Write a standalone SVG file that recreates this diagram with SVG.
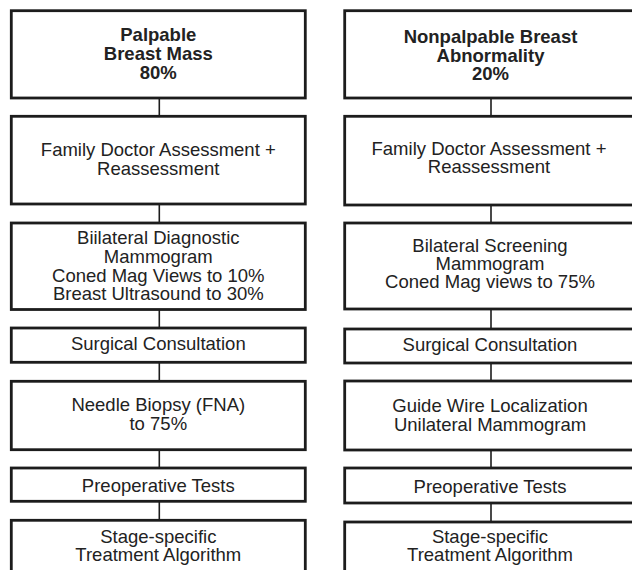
<svg xmlns="http://www.w3.org/2000/svg" width="632" height="570" viewBox="0 0 632 570">
<style>
.box{fill:#fff;stroke:#1c1c1c;stroke-width:2.8}
.t{font-family:"Liberation Sans",Arial,sans-serif;font-size:18.5px;fill:#222;text-anchor:middle}
.b{font-weight:bold}
.c{stroke:#1c1c1c;stroke-width:1.6;fill:none}
</style>
<rect width="632" height="570" fill="#fff"/>
<g id="connectors">
<line class="c" x1="159.3" y1="98" x2="159.3" y2="116"/>
<line class="c" x1="159.3" y1="204" x2="159.3" y2="223"/>
<line class="c" x1="159.3" y1="309.5" x2="159.3" y2="328"/>
<line class="c" x1="159.3" y1="362.3" x2="159.3" y2="381"/>
<line class="c" x1="159.3" y1="449.7" x2="159.3" y2="468"/>
<line class="c" x1="159.3" y1="501.3" x2="159.3" y2="520"/>
<line class="c" x1="491" y1="98" x2="491" y2="116"/>
<line class="c" x1="491" y1="205" x2="491" y2="223"/>
<line class="c" x1="491" y1="309" x2="491" y2="329"/>
<line class="c" x1="491" y1="363" x2="491" y2="381"/>
<line class="c" x1="491" y1="450" x2="491" y2="468"/>
<line class="c" x1="491" y1="503" x2="491" y2="522"/>
</g>
<g id="L1"><rect class="box" x="11.3" y="10.7" width="294" height="87.3"/>
<text class="t b" x="158.3" y="41">Palpable</text>
<text class="t b" x="158.3" y="60">Breast Mass</text>
<text class="t b" x="158.3" y="79">80%</text></g>
<g id="L2"><rect class="box" x="11.3" y="116.3" width="294" height="87.7"/>
<text class="t" x="158.3" y="156">Family Doctor Assessment +</text>
<text class="t" x="158.3" y="175">Reassessment</text></g>
<g id="L3"><rect class="box" x="11.3" y="223" width="294" height="86.5"/>
<text class="t" x="158.3" y="244.3">Biilateral Diagnostic</text>
<text class="t" x="158.3" y="263">Mammogram</text>
<text class="t" x="158.3" y="281.7">Coned Mag Views to 10%</text>
<text class="t" x="158.3" y="300.3">Breast Ultrasound to 30%</text></g>
<g id="L4"><rect class="box" x="11.3" y="328" width="294" height="34.3"/>
<text class="t" x="158.3" y="350.3">Surgical Consultation</text></g>
<g id="L5"><rect class="box" x="11.3" y="381.3" width="294" height="68.4"/>
<text class="t" x="158.3" y="411">Needle Biopsy (FNA)</text>
<text class="t" x="158.3" y="430">to 75%</text></g>
<g id="L6"><rect class="box" x="11.3" y="468" width="294" height="33.3"/>
<text class="t" x="158.3" y="491.7">Preoperative Tests</text></g>
<g id="L7"><rect class="box" x="11.3" y="520.3" width="294" height="70"/>
<text class="t" x="158.3" y="543.3">Stage-specific</text>
<text class="t" x="158.3" y="561">Treatment Algorithm</text></g>
<g id="R1"><rect class="box" x="344.7" y="10.7" width="300" height="87.3"/>
<text class="t b" x="490.5" y="43">Nonpalpable Breast</text>
<text class="t b" x="490.5" y="61.5">Abnormality</text>
<text class="t b" x="490.5" y="80">20%</text></g>
<g id="R2"><rect class="box" x="344.7" y="116.3" width="300" height="88.7"/>
<text class="t" x="489" y="155">Family Doctor Assessment +</text>
<text class="t" x="489" y="173">Reassessment</text></g>
<g id="R3"><rect class="box" x="344.7" y="223" width="300" height="86"/>
<text class="t" x="490" y="252.3">Bilateral Screening</text>
<text class="t" x="490" y="270.3">Mammogram</text>
<text class="t" x="490" y="288.3">Coned Mag views to 75%</text></g>
<g id="R4"><rect class="box" x="344.7" y="329" width="300" height="34"/>
<text class="t" x="490" y="351">Surgical Consultation</text></g>
<g id="R5"><rect class="box" x="344.7" y="381" width="300" height="69"/>
<text class="t" x="490" y="412">Guide Wire Localization</text>
<text class="t" x="490" y="431">Unilateral Mammogram</text></g>
<g id="R6"><rect class="box" x="344.7" y="468" width="300" height="35"/>
<text class="t" x="490" y="493.3">Preoperative Tests</text></g>
<g id="R7"><rect class="box" x="344.7" y="522" width="300" height="70"/>
<text class="t" x="490" y="543.3">Stage-specific</text>
<text class="t" x="490" y="561">Treatment Algorithm</text></g>
</svg>
